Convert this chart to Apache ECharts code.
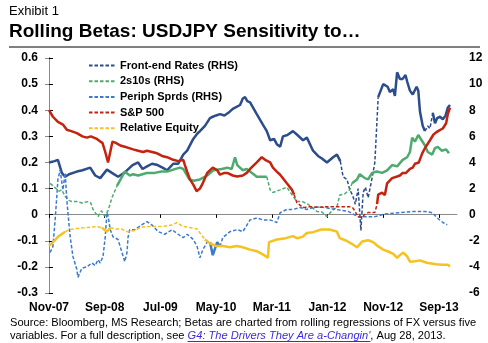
<!DOCTYPE html>
<html><head><meta charset="utf-8">
<script src="https://cdn.jsdelivr.net/npm/echarts@6/dist/echarts.min.js"></script>
<style>html,body{margin:0;padding:0;background:#fff}#c{width:488px;height:343px}</style>
</head><body><div id="c"></div>
<script>
// ---------------- DATA ----------------
// x = months after Nov-2007; RHS series in RHS units, LHS series in LHS units
const tickLabels = ['Nov-07','Sep-08','Jul-09','May-10','Mar-11','Jan-12','Nov-12','Sep-13'];
const tickMonths = [0,10,20,30,40,50,60,70];
const leftTicks = [-0.3, 0.6, 0.1];
const rightTicks = [-6, 12, 2];

const seriesNames = ['Front-end Rates (RHS)','2s10s (RHS)','Periph Sprds (RHS)','S&P 500','Relative Equity'];

const frontEnd = [[0,4.0],[1.0,4.1],[1.6,4.2],[2.3,3.2],[2.9,2.9],[3.6,3.1],[5.0,3.3],[6.0,3.4],[7.4,3.6],[8.3,3.0],[9.2,2.8],[10.4,3.45],[11.3,3.2],[12.4,2.9],[13.5,3.2],[15.0,3.8],[16.0,4.0],[16.8,3.5],[17.6,3.7],[18.5,3.9],[19.5,3.8],[20.8,3.5],[21.2,3.4],[22.3,3.9],[23.2,3.9],
 [24.1,4.6],[24.8,4.9],[25.9,5.8],[26.6,6.2],[27.1,6.4],[28.0,6.8],[28.9,7.4],[29.4,7.5],[30.0,7.6],[30.7,7.7],[31.5,7.6],[32.2,7.8],[33.0,8.1],[34.3,8.4],[34.8,8.9],[35.2,9.0],[35.6,8.7],[36.1,8.6],[37.3,7.7],[38.4,6.9],[39.1,6.4],[39.7,5.7],[40.4,5.8],[40.9,5.4],[41.5,5.2],[42.0,6.0],[42.8,6.1],[43.8,6.4],[44.6,6.1],[45.6,5.7],[46.3,5.9],[47.4,4.9],[48.3,4.5],[49.0,4.3],[49.9,4.0],[51.0,4.4],[51.7,4.6],[52.3,4.1],
 [52.8,2.9],[53.5,2.7],[54.0,1.9],[54.5,1.5],[55.0,0.8],[55.5,2.0],[56.0,-1.2],[56.4,1.7],[56.8,2.1],[57.3,1.3],[58.0,2.8],[58.5,4.0],[59.1,9.0],[60.0,10.0],[60.8,9.8],[61.2,9.4],[61.8,9.6],[62.1,9.1],[62.5,10.9],[63.0,10.4],[63.5,10.4],[64.0,10.7],[64.3,10.2],[64.8,9.5],[65.3,9.2],[66.0,9.8],[66.3,9.5],[66.6,7.9],[67.1,6.8],[67.5,6.4],[68.0,6.8],[68.4,6.6],[68.9,7.8],[69.3,7.0],[69.7,7.4],[70.2,7.5],[70.7,7.3],[71.2,7.6],[71.6,8.2],[72.0,8.4]];
const frontEndSignificant = [[0,52.3],[59.0,67.5],[68.9,72.1]];

const twosTens = [[0.2,2.4],[1.0,2.1],[1.8,1.8],[2.3,1.9],[2.9,1.4],[3.6,1.1],[4.1,1.0],[5.0,1.0],[5.9,0.9],[7.0,1.0],[7.5,0.9],[7.9,0.4],[8.8,-0.15],[9.4,0.3],[10.0,-0.1],[10.6,0.3],[11.3,1.3],[12.2,2.2],[13.1,2.9],[13.6,3.3],[14.5,3.0],[15.1,3.1],[16.0,3.0],[16.8,3.1],[17.6,3.2],[19.0,3.2],[20.2,3.3],[21.2,3.3],[22.3,3.45],[23.5,3.6],[24.1,3.5],[25.2,2.7],[26.0,2.6],[27.1,2.7],[28.4,3.0],[29.5,3.4],[31.0,3.5],[32.0,3.6],[32.8,3.5],[33.4,4.4],[33.8,3.8],[34.8,3.4],[35.5,3.5],[36.1,3.3],[37.3,2.9],[38.5,2.9],[39.1,2.9],
 [39.7,1.9],[40.2,1.7],[41.5,1.9],[42.7,2.1],[43.5,1.6],[44.5,1.0],[45.5,1.0],[46.5,0.8],[47.4,0.5],[48.1,0.25],[49.0,0.2],[49.9,-0.15],[50.8,0.3],[51.7,0.6],[52.2,1.5],[53.1,1.6],[54.0,1.9],[54.4,2.4],[55.3,2.7],[55.8,3.1],[56.7,2.8],[57.3,2.7],[58.0,3.2],[58.9,3.3],[59.8,3.2],[60.7,3.4],[61.6,3.8],[62.5,3.7],[63.5,4.2],[64.3,4.4],[64.8,4.8],[65.2,5.9],[65.7,5.6],[66.3,6.1],[66.9,5.7],[67.5,5.3],[68.0,4.8],[68.8,4.6],[69.3,5.1],[69.8,5.2],[70.5,4.9],[71.3,5.0],[71.8,4.7]];
const twosTensSignificant = [[12.2,39.1],[54.3,72.1]];

const periph = [[0.2,-2.9],[0.7,-2.45],[1.1,-0.4],[1.4,1.4],[1.6,2.7],[2.0,3.4],[2.5,1.9],[2.9,3.2],[3.2,1.15],[3.4,0.15],[3.8,-1.7],[4.3,-3.2],[5.0,-4.2],[5.2,-4.8],[5.9,-4.1],[6.8,-4.0],[7.7,-3.7],[8.3,-3.9],[8.8,-3.45],[9.2,-3.7],[9.7,-3.2],[10.1,-1.7],[10.4,0.15],[10.6,-0.1],[11.0,-1.15],[11.5,-1.7],[12.4,-1.9],[13.1,-2.9],[13.6,-3.6],[14.0,-2.9],[14.2,-1.7],[14.5,-1.15],[15.4,-1.15],[16.7,-0.77],[17.6,-0.54],[18.5,-0.8],[19.6,-1.3],[20.8,-1.5],[22.1,-1.15],[23.2,-1.5],[24.1,-1.76],[24.8,-1.5],[25.9,-1.9],[26.6,-2.45],[27.1,-3.3],[27.6,-2.7],[28.4,-2.1],[28.9,-2.1],[29.4,-3.1],[30.2,-2.1],[30.7,-2.45],[31.2,-1.76],[32.5,-1.3],[33.8,-1.15],[34.8,-1.3],[36.1,-0.4],[37.3,-0.25],[38.4,-0.4],[39.7,-0.4],[40.9,-0.6],[41.5,0.15],[42.7,0.4],[43.8,0.4],[45.1,0.55],[46.3,0.4],[47.4,0.55],[48.7,0.6],[50.8,0.45],[53.7,0.25],[55.5,-0.15],[58.5,-0.15],[60.3,0.05],[62.7,0.15],[65.7,0.25],[67.5,0.25],[68.8,0.15],[69.7,-0.25],[70.7,-0.6],[71.5,-0.77]];
const periphSignificant = [[28.8,30.8]];

const sp500 = [[0,0.40],[0.7,0.375],[1.6,0.355],[2.5,0.345],[3.2,0.325],[4.0,0.32],[5.0,0.312],[6.0,0.30],[6.8,0.295],[7.5,0.30],[8.6,0.29],[9.2,0.28],[9.6,0.275],[10.1,0.24],[10.6,0.20],[11.0,0.24],[11.4,0.28],[12.0,0.275],[12.8,0.265],[13.6,0.26],[14.4,0.255],[15.1,0.25],[16.0,0.245],[16.9,0.24],[17.6,0.245],[18.5,0.24],[19.4,0.235],[20.3,0.225],[21.2,0.22],[22.3,0.21],[23.2,0.205],[24.1,0.21],[24.4,0.19],[24.8,0.165],[25.3,0.135],[25.9,0.115],[26.5,0.09],[27.1,0.10],[27.6,0.12],[28.4,0.16],[29.4,0.18],[30.2,0.17],[30.7,0.153],[31.5,0.16],[32.0,0.16],[33.0,0.15],[33.8,0.146],[34.8,0.15],[35.5,0.16],[36.1,0.175],[37.3,0.20],[38.2,0.22],[38.8,0.21],[39.7,0.20],[40.2,0.18],[40.9,0.165],[41.5,0.153],[42.7,0.12],[43.6,0.096],[44.0,0.077],
 [44.5,0.046],[45.6,0.027],[46.7,0.03],[47.4,0.03],[48.5,0.028],[49.5,0.03],[50.5,0.03],[52.4,0.03],[54.0,0.03],[54.6,0.025],[55.5,-0.008],[56.3,-0.011],[56.6,0.0],[57.3,0.008],[58.5,0.008],[58.9,0.04],[59.1,0.077],[59.8,0.084],[60.3,0.075],[60.7,0.12],[61.6,0.14],[62.5,0.146],[63.0,0.15],[63.5,0.16],[64.1,0.16],[64.8,0.175],[65.3,0.18],[65.7,0.195],[66.4,0.20],[67.0,0.235],[67.5,0.255],[68.4,0.285],[69.0,0.306],[69.5,0.315],[70.0,0.322],[70.7,0.33],[71.3,0.35],[71.6,0.385],[72.0,0.41]];
const sp500Significant = [[0,44.0],[59.0,72.1]];

const relEquity = [[0,-0.12],[0.5,-0.11],[1.6,-0.085],[2.9,-0.065],[3.8,-0.057],[5.0,-0.053],[6.5,-0.05],[8.6,-0.046],[9.5,-0.05],[10.4,-0.065],[11.0,-0.05],[12.0,-0.055],[13.0,-0.055],[14.0,-0.065],[15.5,-0.06],[16.3,-0.05],[17.5,-0.045],[18.5,-0.045],[20.5,-0.045],[22.0,-0.04],[23.0,-0.03],[24.0,-0.045],[25.5,-0.05],[26.6,-0.055],[27.1,-0.07],[28.0,-0.095],[28.9,-0.11],[30.0,-0.12],[31.2,-0.12],[32.5,-0.125],[33.7,-0.12],[34.8,-0.125],[36.1,-0.134],[37.3,-0.14],[38.4,-0.152],[39.3,-0.165],[39.5,-0.105],[40.9,-0.095],[42.5,-0.09],[43.8,-0.082],[44.5,-0.09],[45.5,-0.085],[46.3,-0.07],[47.4,-0.067],[48.9,-0.057],[50.4,-0.057],[51.7,-0.065],[52.2,-0.09],[53.4,-0.10],[54.6,-0.115],[55.3,-0.125],[56.2,-0.103],[57.3,-0.098],[58.2,-0.105],[59.0,-0.12],[60.0,-0.134],[61.0,-0.142],[61.8,-0.15],[62.5,-0.165],[63.0,-0.155],[63.6,-0.145],[64.3,-0.16],[64.8,-0.18],[65.7,-0.178],[66.6,-0.175],[67.8,-0.184],[69.5,-0.19],[70.7,-0.192],[71.6,-0.192],[72.0,-0.198]];
const relEquitySignificant = [[0,2.3],[9.9,10.8],[28.0,72.1]];

// ---------------- STYLE / BUILD ----------------
const FONT = 'Liberation Sans';
const colors = ['#2C4D8C','#4FAA70','#3A7AD0','#C3230F','#F5C21E'];
const defs = [
  [frontEnd, frontEndSignificant, 1],
  [twosTens, twosTensSignificant, 1],
  [periph, periphSignificant, 1],
  [sp500, sp500Significant, 0],
  [relEquity, relEquitySignificant, 0]
];
const series = [];
defs.forEach((d, k) => {
  const [pts, sig, yIdx] = d;
  const isSig = (a, b) => { const m = (a + b) / 2; return sig.some(r => m >= r[0] && m <= r[1]); };
  const runs = []; let cur = null;
  for (let i = 0; i < pts.length - 1; i++) {
    const s = isSig(pts[i][0], pts[i + 1][0]);
    if (!cur || cur.s !== s) { cur = { s, data: [pts[i]] }; runs.push(cur); }
    cur.data.push(pts[i + 1]);
  }
  runs.forEach((r, j) => series.push({
    type: 'line', name: '_' + k + '_' + j, xAxisIndex: 0, yAxisIndex: yIdx, data: r.data,
    symbol: 'none', showSymbol: false, silent: true, z: 2 + k,
    lineStyle: { color: colors[k], width: r.s ? 2.5 : 1.5, type: r.s ? 'solid' : [3.5, 2] }
  }));
  series.push({ type: 'line', name: seriesNames[k], xAxisIndex: 0, yAxisIndex: yIdx, data: [], symbol: 'none',
    itemStyle: { color: colors[k] }, lineStyle: { color: colors[k], width: 1.6, type: [3.5, 2] } });
});

const chart = echarts.init(document.getElementById('c'), null, { renderer: 'canvas' });
const lbl = { fontFamily: FONT, fontWeight: 'bold', fontSize: 12, color: '#000' };
const xBase = { type: 'value', min: 0, max: 73.25, splitLine: { show: false }, gridIndex: 0 };

// measure text for underline of link
const ctx = document.createElement('canvas').getContext('2d');
const src1 = 'Source: Bloomberg, MS Research; Betas are charted from rolling regressions of FX versus five';
const src2a = 'variables. For a full description, see ';
const src2b = "G4: The Drivers They Are a-Changin'";
const src2c = ', Aug 28, 2013.';
const SRC_SIZE = 11.1;
ctx.font = SRC_SIZE + 'px "' + FONT + '"';
const wA = ctx.measureText(src2a).width;
ctx.font = 'italic ' + SRC_SIZE + 'px "' + FONT + '"';
const wB = ctx.measureText(src2b).width;
const linkColor = '#3B2BE0';

chart.setOption({
  animation: false,
  backgroundColor: '#fff',
  grid: { left: 49, right: 31, top: 58, bottom: 50, containLabel: false },
  legend: {
    data: seriesNames, orient: 'vertical', left: 83, top: 55, itemWidth: 26, itemHeight: 12, itemGap: 4.7,
    itemStyle: { opacity: 0 },
    textStyle: { fontFamily: FONT, fontWeight: 'bold', fontSize: 11, color: '#000' }, selectedMode: false
  },
  xAxis: [
    Object.assign({}, xBase, { axisLine: { onZero: true, lineStyle: { color: '#8a8a8a', width: 1 } },
      axisTick: { show: true, inside: false, length: 3, customValues: tickMonths, lineStyle: { color: '#000' } },
      axisLabel: { show: false } }),
    Object.assign({}, xBase, { position: 'bottom', axisLine: { show: false, onZero: false }, axisTick: { show: false },
      axisLabel: Object.assign({ margin: 9, customValues: tickMonths,
        formatter: v => { const i = tickMonths.indexOf(Math.round(v)); return i >= 0 ? tickLabels[i] : ''; } }, lbl) }),
    Object.assign({}, xBase, { axisLine: { show: false, onZero: true }, axisLabel: { show: false },
      axisTick: { show: true, inside: true, length: 3, customValues: tickMonths, lineStyle: { color: '#000' } } })
  ],
  yAxis: [
    { type: 'value', min: leftTicks[0], max: leftTicks[1], interval: leftTicks[2], position: 'left',
      splitLine: { show: false },
      axisLine: { show: true, lineStyle: { color: '#000' } },
      axisTick: { show: true, inside: true, length: 4, lineStyle: { color: '#000' } },
      axisLabel: Object.assign({ margin: 11, formatter: v => String(Math.round(v * 10) / 10) }, lbl) },
    { type: 'value', min: rightTicks[0], max: rightTicks[1], interval: rightTicks[2], position: 'right',
      splitLine: { show: false },
      axisLine: { show: true, lineStyle: { color: '#8a8a8a' } },
      axisTick: { show: true, inside: true, length: 4, lineStyle: { color: '#8a8a8a' } },
      axisLabel: Object.assign({ margin: 12 }, lbl) }
  ],
  series: series,
  graphic: [
    { type: 'text', left: 9, top: 5, style: { text: 'Exhibit 1', font: '13px "' + FONT + '"', fill: '#000' } },
    { type: 'text', left: 9, top: 22, style: { text: 'Rolling Betas: USDJPY Sensitivity to\u2026', font: 'bold 19px "' + FONT + '"', fill: '#000' } },
    { type: 'line', shape: { x1: 9, y1: 47, x2: 480, y2: 47 }, style: { stroke: '#000', lineWidth: 1 } },
    { type: 'text', x: 10, y: 323, style: { text: src1, font: SRC_SIZE + 'px "' + FONT + '"', fill: '#000', verticalAlign: 'middle' } },
    { type: 'text', x: 10, y: 336, style: { text: '{a|' + src2a + '}{b|' + src2b + '}{a|' + src2c + '}', verticalAlign: 'middle',
        rich: { a: { fontFamily: FONT, fontSize: SRC_SIZE, fill: '#000' }, b: { fontFamily: FONT, fontSize: SRC_SIZE, fontStyle: 'italic', fill: linkColor } } } },
    { type: 'line', shape: { x1: 10 + wA, y1: 341.5, x2: 10 + wA + wB, y2: 341.5 }, style: { stroke: linkColor, lineWidth: 1 } }
  ]
});
</script>
</body></html>
